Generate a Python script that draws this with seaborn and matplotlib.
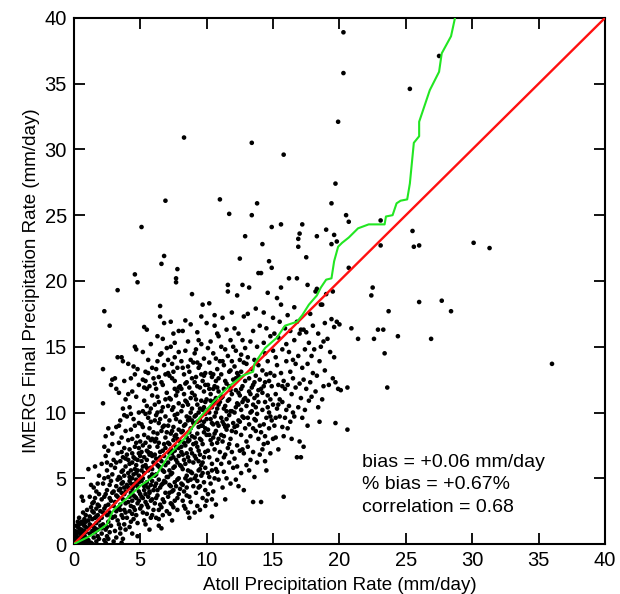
import numpy as np
import pandas as pd
import matplotlib
matplotlib.use("Agg")
import matplotlib.pyplot as plt
import seaborn as sns

# atoll (x) vs IMERG final (y), mm/day
pts_0_3 = [(0.1,0.1),(0.1,0.6),(0.2,1.4),(0.2,0.3),(0.3,0.9),(0.3,1.7),(0.3,0.0),(0.4,0.5),(0.4,1.2),(0.5,0.2),(0.5,1.6),(0.5,0.8),(0.6,0.4),(0.6,1.1),(0.6,3.6),(0.7,3.3),(0.7,0.1),(0.7,1.5),(0.7,0.7),(0.8,0.3),(0.8,1.9),(0.8,1.0),(0.9,0.5),(0.9,1.3),(0.9,2.2),(0.9,0.0),(0.2,0.0),(0.4,0.0),(0.6,0.0),(0.1,1.0),(0.3,1.3),(0.5,1.1),(0.8,0.6),(0.9,0.9),(0.4,2.0),(0.6,1.7),(0.2,0.7),(0.7,2.4),(0.5,0.5),(0.8,1.4),(1.0,0.2),(0.3,0.4),(0.6,0.8),(0.9,1.7),(0.4,1.5),
    (1.1,0.3),(1.1,1.2),(1.1,5.7),(1.2,0.8),(1.2,2.1),(1.2,1.5),(1.3,4.5),(1.3,0.1),(1.3,2.8),(1.4,1.0),(1.4,3.1),(1.4,1.9),(1.5,0.5),(1.5,4.3),(1.5,2.4),(1.5,1.3),(1.6,5.9),(1.6,0.9),(1.6,3.5),(1.6,2.0),(1.7,0.2),(1.7,1.6),(1.7,2.7),(1.7,4.0),(1.8,1.1),(1.8,3.0),(1.8,0.6),(1.8,2.2),(1.9,1.8),(1.9,3.8),(1.9,0.4),(1.9,5.2),(2.0,2.5),(2.0,1.4),(1.2,3.6),(1.4,2.5),(1.6,1.2),(1.8,4.6),(1.1,1.8),(1.3,1.4),(1.5,3.2),(1.7,2.1),(1.9,2.9),(1.0,2.6),(1.4,0.0),
    (2.1,0.8),(2.1,2.0),(2.1,3.4),(2.1,6.1),(2.2,10.7),(2.2,13.3),(2.2,1.5),(2.2,4.6),(2.3,17.7),(2.3,0.3),(2.3,2.7),(2.3,5.0),(2.4,1.1),(2.4,3.8),(2.4,8.2),(2.4,6.7),(2.5,2.2),(2.5,4.1),(2.5,0.6),(2.5,5.6),(2.6,8.8),(2.6,3.0),(2.6,1.7),(2.6,7.1),(2.7,16.6),(2.7,4.5),(2.7,2.4),(2.7,0.9),(2.8,12.1),(2.8,6.0),(2.8,3.3),(2.8,1.4),(2.9,12.5),(2.9,5.3),(2.9,2.0),(2.9,7.6),(3.0,4.0),(3.0,0.2),(3.0,6.4),(3.0,2.9),(2.2,2.4),(2.4,2.9),(2.6,5.1),(2.8,4.8),(2.3,3.6),(2.5,1.3),(2.7,3.5),(2.9,3.9),(2.1,1.2),(2.4,0.1),(2.6,0.4),(2.8,2.1),(2.3,7.4),(2.5,6.2),(2.9,8.4)]

pts_3_5 = [(3.1,12.6),(3.1,3.2),(3.1,1.0),(3.1,5.8),(3.2,8.9),(3.2,2.5),(3.2,4.4),(3.2,0.5),(3.3,19.3),(3.3,14.2),(3.3,6.9),(3.3,3.6),(3.3,1.8),(3.4,11.5),(3.4,5.1),(3.4,2.8),(3.4,7.7),(3.5,9.4),(3.5,4.2),(3.5,1.2),(3.5,6.3),(3.5,3.0),(3.6,14.2),(3.6,5.5),(3.6,2.2),(3.6,8.1),(3.6,0.1),(3.7,13.9),(3.7,4.7),(3.7,3.4),(3.7,10.3),(3.7,6.6),(3.8,12.4),(3.8,2.6),(3.8,5.2),(3.8,7.3),(3.8,1.5),(3.9,11.0),(3.9,4.0),(3.9,3.1),(3.9,8.6),(3.9,5.9),(4.0,2.0),(4.0,6.8),(4.0,9.7),(4.0,4.5),(3.1,2.1),(3.2,3.7),(3.3,4.9),(3.4,1.5),(3.5,2.6),(3.6,3.9),(3.7,2.0),(3.8,3.8),(3.9,2.4),(3.2,6.2),(3.4,4.1),(3.6,4.6),(3.8,4.3),(3.5,5.0),(3.7,5.6),(3.9,6.5),(3.3,2.7),(3.5,0.8),(3.7,0.4),(3.9,1.1),(3.4,9.0),(3.6,7.0),(3.8,9.8),(3.2,11.8),
    (4.1,3.2),(4.1,5.4),(4.1,7.9),(4.1,13.7),(4.2,2.5),(4.2,4.8),(4.2,6.1),(4.2,10.4),(4.3,1.7),(4.3,3.9),(4.3,8.7),(4.3,12.6),(4.4,0.8),(4.4,5.0),(4.4,6.9),(4.4,3.3),(4.5,2.8),(4.5,4.4),(4.5,9.5),(4.5,13.5),(4.6,20.5),(4.6,15.0),(4.6,5.7),(4.6,3.6),(4.6,7.4),(4.7,14.8),(4.7,2.2),(4.7,4.9),(4.7,11.2),(4.8,19.9),(4.8,6.4),(4.8,3.1),(4.8,8.2),(4.8,0.6),(4.9,5.2),(4.9,4.0),(4.9,10.0),(4.9,12.1),(5.0,2.7),(5.0,6.7),(5.0,7.8),(5.0,3.8),(4.1,4.3),(4.2,3.6),(4.3,5.6),(4.4,4.2),(4.5,5.3),(4.6,4.6),(4.7,3.5),(4.8,4.4),(4.9,3.3),(4.2,7.2),(4.4,8.0),(4.6,9.0),(4.8,5.6),(4.3,2.9),(4.5,1.9),(4.7,6.0),(4.9,6.9),(4.1,6.4),(4.3,4.6),(4.5,3.7),(4.7,5.4),(4.9,4.7),(4.2,1.3),(4.4,2.3),(4.6,2.6),(4.8,1.6),(4.5,6.6),(4.7,7.7),(4.4,11.6),(4.6,12.9),(4.9,9.2),(4.3,9.9),(4.1,11.4),(4.8,13.3),(4.2,5.1),(4.4,6.2),(4.6,6.5),(4.9,7.3)]

pts_5_7 = [(5.1,24.1),(5.1,3.6),(5.1,6.3),(5.1,9.1),(5.2,12.5),(5.2,2.4),(5.2,5.0),(5.2,7.5),(5.3,16.5),(5.3,4.1),(5.3,8.3),(5.3,10.9),(5.4,1.5),(5.4,6.0),(5.4,3.2),(5.4,13.1),(5.5,16.3),(5.5,4.7),(5.5,7.1),(5.5,11.8),(5.6,2.8),(5.6,5.6),(5.6,9.6),(5.6,14.0),(5.7,3.9),(5.7,6.8),(5.7,8.8),(5.7,12.0),(5.8,4.5),(5.8,2.0),(5.8,7.9),(5.8,10.3),(5.9,5.3),(5.9,3.4),(5.9,11.3),(5.9,13.4),(6.0,6.2),(6.0,4.1),(6.0,8.5),(6.0,2.6),(5.1,4.8),(5.2,5.9),(5.3,5.4),(5.4,4.5),(5.5,5.8),(5.6,4.3),(5.7,5.1),(5.8,5.8),(5.9,4.8),(5.2,3.5),(5.4,3.8),(5.6,3.6),(5.8,3.3),(5.1,7.0),(5.3,6.6),(5.5,6.4),(5.7,7.4),(5.9,6.7),(5.2,8.9),(5.4,9.9),(5.6,8.1),(5.8,9.3),(5.3,11.9),(5.5,10.5),(5.7,10.0),(5.9,8.0),(5.1,2.9),(5.3,1.8),(5.5,2.3),(5.7,1.1),(5.9,2.2),(5.2,14.6),(5.4,12.4),(5.6,13.0),(5.8,15.2),(5.5,3.0),(5.7,4.0),(5.3,4.4),(5.1,5.6),(5.9,5.7),(5.6,7.0),(5.4,7.7),(5.8,6.9),(5.2,10.1),(6.0,12.6),
    (6.1,3.1),(6.1,5.2),(6.1,7.8),(6.1,10.6),(6.2,2.0),(6.2,4.6),(6.2,6.5),(6.2,13.3),(6.3,15.8),(6.3,3.7),(6.3,8.4),(6.3,11.2),(6.4,1.4),(6.4,5.9),(6.4,9.2),(6.4,12.7),(6.5,18.1),(6.5,17.3),(6.5,4.3),(6.5,7.0),(6.6,21.3),(6.6,14.5),(6.6,2.8),(6.6,10.1),(6.7,5.6),(6.7,3.4),(6.7,8.9),(6.7,12.1),(6.8,21.9),(6.8,6.7),(6.8,4.8),(6.8,16.8),(6.9,26.1),(6.9,3.9),(6.9,9.7),(6.9,7.3),(7.0,5.1),(7.0,11.5),(7.0,2.5),(7.0,14.9),(6.1,4.4),(6.2,5.3),(6.3,6.0),(6.4,4.9),(6.5,5.8),(6.6,6.3),(6.7,4.6),(6.8,5.5),(6.9,6.0),(6.1,6.8),(6.3,7.4),(6.5,6.6),(6.7,7.1),(6.9,8.1),(6.2,8.0),(6.4,7.7),(6.6,8.6),(6.8,9.0),(6.1,9.4),(6.3,10.0),(6.5,9.5),(6.7,10.4),(6.9,11.0),(6.2,11.8),(6.4,10.8),(6.6,12.3),(6.8,13.6),(6.3,4.1),(6.5,3.0),(6.7,2.2),(6.9,4.7),(6.2,3.5),(6.4,2.6),(6.6,4.5),(6.8,3.2),(6.3,13.9),(6.5,14.4),(6.7,15.6),(6.9,12.9),(6.1,12.2),(6.4,1.9),(6.6,1.2),(6.8,7.6),(6.2,9.8),(7.0,8.5)]

pts_7_9 = [(7.1,3.6),(7.1,6.2),(7.1,9.0),(7.1,13.0),(7.2,4.5),(7.2,7.6),(7.2,11.1),(7.2,2.3),(7.3,5.3),(7.3,8.4),(7.3,15.0),(7.3,3.1),(7.4,6.9),(7.4,10.2),(7.4,4.0),(7.4,12.6),(7.5,16.0),(7.5,5.8),(7.5,8.9),(7.5,2.8),(7.6,7.1),(7.6,11.8),(7.6,4.7),(7.6,14.2),(7.7,20.2),(7.7,19.9),(7.7,6.4),(7.7,9.5),(7.8,20.9),(7.8,3.5),(7.8,8.0),(7.8,13.4),(7.9,5.0),(7.9,10.7),(7.9,7.3),(7.9,16.2),(8.0,6.0),(8.0,9.3),(8.0,4.2),(8.0,12.0),(7.1,5.1),(7.2,5.6),(7.3,6.5),(7.4,5.4),(7.5,6.6),(7.6,5.9),(7.7,7.4),(7.8,6.2),(7.9,6.7),(7.1,7.7),(7.3,7.2),(7.5,7.9),(7.7,8.3),(7.9,8.7),(7.2,9.4),(7.4,8.6),(7.6,9.8),(7.8,9.9),(7.1,10.5),(7.3,11.0),(7.5,10.4),(7.7,11.3),(7.9,11.9),(7.2,12.8),(7.4,13.7),(7.6,12.4),(7.8,11.6),(7.2,3.9),(7.4,3.0),(7.6,3.3),(7.8,4.9),(7.3,4.4),(7.5,4.1),(7.7,4.4),(7.9,3.8),(7.1,14.0),(7.5,13.1),(7.9,14.6),(7.3,16.9),(7.6,15.3),(7.4,1.8),(7.8,2.6),(7.2,6.9),(7.6,8.2),(8.0,7.8),
    (8.1,4.6),(8.1,7.0),(8.1,10.1),(8.1,13.9),(8.2,3.3),(8.2,5.7),(8.2,8.6),(8.2,16.2),(8.3,30.9),(8.3,6.4),(8.3,11.4),(8.3,4.0),(8.4,9.1),(8.4,2.7),(8.4,14.7),(8.4,7.5),(8.5,5.2),(8.5,12.3),(8.5,8.1),(8.5,3.7),(8.6,10.6),(8.6,6.6),(8.6,13.5),(8.6,4.8),(8.7,2.0),(8.7,7.9),(8.7,9.6),(8.7,11.9),(8.8,5.5),(8.8,14.0),(8.8,3.2),(8.8,8.8),(8.9,19.0),(8.9,6.9),(8.9,10.3),(8.9,12.6),(9.0,4.4),(9.0,7.6),(9.0,13.8),(9.0,9.2),(8.1,5.9),(8.2,6.8),(8.3,7.7),(8.4,6.1),(8.5,6.9),(8.6,7.8),(8.7,6.3),(8.8,7.2),(8.9,8.2),(8.1,8.5),(8.3,9.0),(8.5,9.7),(8.7,8.5),(8.9,9.4),(8.2,10.5),(8.4,10.9),(8.6,9.4),(8.8,11.1),(8.1,11.8),(8.3,12.9),(8.5,10.8),(8.7,13.1),(8.9,11.5),(8.2,4.5),(8.4,5.0),(8.6,5.6),(8.8,4.9),(8.3,2.9),(8.5,4.3),(8.7,3.6),(8.9,5.4),(8.2,13.4),(8.4,12.2),(8.6,15.4),(8.8,16.7),(8.4,17.0),(8.6,2.4),(8.1,7.4),(8.8,10.0),(9.0,6.2)]

pts_9_11 = [(9.1,5.0),(9.1,8.1),(9.1,11.3),(9.1,14.5),(9.2,3.9),(9.2,6.5),(9.2,9.8),(9.2,12.7),(9.3,2.9),(9.3,7.4),(9.3,10.6),(9.3,16.1),(9.4,5.6),(9.4,8.9),(9.4,13.4),(9.4,4.3),(9.5,6.8),(9.5,11.9),(9.5,2.6),(9.5,9.4),(9.6,7.9),(9.6,12.9),(9.6,5.2),(9.6,15.2),(9.7,18.2),(9.7,10.2),(9.7,3.5),(9.7,6.2),(9.8,8.5),(9.8,11.6),(9.8,4.7),(9.8,14.1),(9.9,7.0),(9.9,9.9),(9.9,13.0),(9.9,5.8),(10.0,8.3),(10.0,11.0),(10.0,3.3),(10.0,16.8),(9.1,6.7),(9.2,7.7),(9.3,8.4),(9.4,7.1),(9.5,8.0),(9.6,9.0),(9.7,7.6),(9.8,9.3),(9.9,8.8),(9.1,9.7),(9.3,9.3),(9.5,10.3),(9.7,9.0),(9.9,10.8),(9.2,11.0),(9.4,10.0),(9.6,10.9),(9.8,10.4),(9.1,12.3),(9.3,12.0),(9.5,13.6),(9.7,12.4),(9.9,12.1),(9.2,5.2),(9.4,6.3),(9.6,6.0),(9.8,6.6),(9.3,4.8),(9.5,4.4),(9.7,5.4),(9.9,4.1),(9.2,14.8),(9.4,15.5),(9.6,17.3),(9.8,12.8),(9.1,2.4),(9.5,5.7),(9.9,2.9),(9.3,13.8),(10.0,9.5),
    (10.1,5.4),(10.1,8.7),(10.1,12.1),(10.1,3.8),(10.2,18.3),(10.2,6.6),(10.2,10.0),(10.2,13.8),(10.3,4.6),(10.3,7.9),(10.3,11.4),(10.3,15.4),(10.4,2.1),(10.4,9.2),(10.4,6.1),(10.4,12.7),(10.5,8.1),(10.5,10.7),(10.5,4.0),(10.5,14.5),(10.6,7.2),(10.6,9.7),(10.6,12.0),(10.6,16.6),(10.7,5.7),(10.7,8.6),(10.7,11.1),(10.7,3.0),(10.8,10.3),(10.8,13.3),(10.8,6.4),(10.8,7.7),(10.9,9.0),(10.9,12.6),(10.9,4.9),(10.9,15.8),(11.0,26.2),(11.0,7.0),(11.0,10.8),(11.0,13.9),(10.1,7.1),(10.2,8.3),(10.3,9.5),(10.4,7.6),(10.5,9.1),(10.6,8.4),(10.7,10.0),(10.8,9.2),(10.9,10.6),(10.1,10.2),(10.3,10.9),(10.5,11.8),(10.7,12.4),(10.9,11.6),(10.2,11.8),(10.4,10.4),(10.6,10.9),(10.8,11.9),(10.2,5.1),(10.4,5.6),(10.6,5.0),(10.8,5.5),(10.3,13.0),(10.5,12.9),(10.7,14.1),(10.1,14.9),(10.9,8.0),(10.4,3.4),(10.6,17.4),(10.8,16.0)]

pts_11_14 = [(11.1,6.1),(11.1,9.6),(11.1,12.9),(11.1,15.0),(11.2,4.3),(11.2,7.8),(11.2,11.2),(11.2,17.2),(11.3,5.5),(11.3,9.1),(11.3,13.6),(11.3,8.2),(11.4,6.8),(11.4,10.5),(11.4,14.8),(11.4,3.4),(11.5,8.7),(11.5,12.2),(11.5,16.3),(11.5,5.0),(11.6,19.7),(11.6,19.2),(11.6,7.3),(11.6,10.9),(11.7,25.1),(11.7,13.1),(11.7,6.2),(11.7,9.8),(11.8,11.7),(11.8,8.0),(11.8,15.5),(11.8,4.6),(11.9,7.0),(11.9,10.1),(11.9,13.9),(11.9,17.6),(12.0,9.2),(12.0,12.5),(12.0,5.8),(12.0,15.0),(11.1,8.3),(11.2,9.3),(11.3,10.3),(11.4,8.9),(11.5,10.1),(11.6,9.0),(11.7,11.0),(11.8,10.1),(11.9,11.4),(11.1,11.1),(11.3,11.8),(11.5,9.5),(11.7,12.0),(11.9,8.6),(11.2,13.9),(11.4,12.4),(11.6,14.3),(11.8,13.2),(11.3,6.6),(11.7,7.6),
    (12.1,6.5),(12.1,10.0),(12.1,13.5),(12.1,16.4),(12.2,4.9),(12.2,8.5),(12.2,11.7),(12.2,14.7),(12.3,7.5),(12.3,10.7),(12.3,18.9),(12.3,5.9),(12.4,9.4),(12.4,12.8),(12.4,4.4),(12.4,16.0),(12.5,21.7),(12.5,7.1),(12.5,11.3),(12.5,14.0),(12.6,8.3),(12.6,10.2),(12.6,13.1),(12.6,5.4),(12.7,19.7),(12.7,9.7),(12.7,12.0),(12.7,15.5),(12.8,6.9),(12.8,11.0),(12.8,17.3),(12.8,4.1),(12.9,23.4),(12.9,8.8),(12.9,12.4),(12.9,14.9),(13.0,10.5),(13.0,7.8),(13.0,13.7),(13.0,6.0),(12.1,8.9),(12.2,10.4),(12.3,9.0),(12.4,10.6),(12.5,9.3),(12.6,11.8),(12.7,10.8),(12.8,9.6),(12.9,11.1),(12.2,12.6),(12.4,11.5),(12.6,14.4),(12.8,13.8),(12.3,13.0),(12.7,7.2),
    (13.1,7.4),(13.1,10.9),(13.1,14.2),(13.1,17.5),(13.2,5.6),(13.2,9.1),(13.2,12.6),(13.2,19.5),(13.3,8.2),(13.3,11.4),(13.3,15.4),(13.3,6.4),(13.4,30.5),(13.4,25.0),(13.4,10.1),(13.4,13.3),(13.5,7.0),(13.5,12.1),(13.5,16.2),(13.5,3.2),(13.6,9.5),(13.6,11.1),(13.6,14.0),(13.6,5.1),(13.7,8.6),(13.7,12.8),(13.7,17.9),(13.7,10.4),(13.8,25.9),(13.8,6.2),(13.8,9.9),(13.8,15.0),(13.9,11.7),(13.9,8.0),(13.9,13.6),(13.9,20.6),(14.0,9.0),(14.0,12.5),(14.0,16.6),(14.0,6.8),(13.1,9.6),(13.3,10.0),(13.5,10.6),(13.7,9.4),(13.9,10.8),(13.2,11.6),(13.4,11.9),(13.6,12.3),(13.8,11.3),(13.5,8.8)]

pts_14_20 = [(14.1,3.2),(14.1,8.5),(14.1,11.8),(14.1,20.6),(14.2,22.8),(14.2,7.2),(14.2,13.2),(14.2,10.2),(14.3,9.1),(14.3,15.3),(14.3,12.0),(14.3,17.6),(14.4,6.3),(14.4,10.8),(14.4,14.5),(14.4,8.2),(14.5,12.9),(14.5,9.6),(14.5,16.4),(14.5,5.6),(14.6,11.3),(14.6,7.7),(14.6,13.9),(14.6,19.1),(14.7,21.5),(14.7,10.0),(14.7,12.4),(14.7,8.8),(14.8,15.8),(14.8,11.0),(14.8,6.9),(14.8,13.0),(14.9,24.1),(14.9,21.0),(14.9,9.4),(14.9,12.0),(15.0,10.6),(15.0,14.7),(15.0,8.0),(15.0,17.2),(14.2,11.5),(14.4,12.3),(14.6,10.4),(14.8,9.7),(14.3,7.6),
    (15.1,9.0),(15.1,12.8),(15.1,16.0),(15.2,8.1),(15.2,11.4),(15.2,14.2),(15.3,10.3),(15.3,13.6),(15.3,18.7),(15.4,7.2),(15.4,12.1),(15.4,15.7),(15.5,9.7),(15.5,11.0),(15.5,16.9),(15.6,24.3),(15.6,19.5),(15.6,18.2),(15.6,13.0),(15.7,8.9),(15.7,10.8),(15.7,14.8),(15.8,29.6),(15.8,3.6),(15.8,12.4),(15.8,8.2),(15.9,11.8),(15.9,16.4),(15.9,9.6),(16.0,13.9),(16.0,10.2),(16.0,15.2),(15.2,9.6),(15.4,10.6),(15.7,12.0),
    (16.1,8.8),(16.1,12.1),(16.1,17.4),(16.2,20.2),(16.2,10.5),(16.2,14.6),(16.3,9.3),(16.3,13.1),(16.3,16.2),(16.4,11.4),(16.4,8.0),(16.5,14.0),(16.5,12.6),(16.5,10.0),(16.6,15.5),(16.6,9.7),(16.7,11.9),(16.7,13.7),(16.8,20.2),(16.8,16.9),(16.8,6.6),(16.9,23.2),(16.9,22.6),(16.9,10.4),(16.9,14.3),(17.0,23.6),(17.0,7.8),(17.0,12.2),(17.0,16.0),(16.6,18.0),
    (17.1,6.6),(17.1,11.1),(17.1,16.3),(17.2,24.3),(17.2,13.4),(17.2,9.6),(17.3,7.4),(17.3,16.3),(17.3,12.5),(17.4,10.2),(17.4,14.8),(17.5,21.8),(17.5,11.8),(17.5,16.1),(17.6,19.7),(17.6,13.7),(17.6,9.0),(17.7,15.3),(17.7,10.9),(17.8,12.3),(17.8,17.5),(17.9,14.3),(17.9,11.2),(18.0,16.6),(18.0,13.0),
    (18.2,19.2),(18.3,19.4),(18.3,23.4),(18.1,14.8),(18.2,11.6),(18.3,12.8),(18.4,16.0),(18.5,9.3),(18.5,13.9),(18.6,18.2),(18.7,18.2),(18.6,15.0),(18.7,11.0),(18.8,12.0),(18.8,15.4),(18.9,16.8),(18.9,13.2),(19.0,23.9),(19.0,19.0),(18.4,10.4),
    (19.1,15.6),(19.2,12.1),(19.3,14.6),(19.4,25.9),(19.4,22.8),(19.4,17.1),(19.5,19.2),(19.5,12.6),(19.6,23.5),(19.6,16.5),(19.6,14.2),(19.7,27.4),(19.7,9.2),(19.7,12.3),(19.8,23.0),(19.8,16.9),(19.9,32.1),(19.9,11.8)]

pts_20_up = [(20.0,16.7),(20.1,11.7),(20.3,38.9),(20.3,35.8),(20.5,25.0),(20.6,11.9),(20.6,8.7),(20.7,24.5),(20.7,21.0),(20.9,16.4),(21.4,15.6),(22.4,18.9),(22.5,19.5),(22.6,15.6),(22.9,16.3),(23.1,24.6),(23.1,22.7),(23.3,16.3),(23.4,14.5),(23.6,11.9),(23.7,17.7),(24.4,15.8),(25.3,34.6),(25.5,23.8),(25.6,22.6),(26.0,22.7),(26.0,18.4),(26.9,15.6),(27.5,37.1),(27.7,18.5),(28.4,17.7),(30.1,22.9),(31.3,22.5),(36.0,13.7)]

# quantile-quantile curve (green)
qq_atoll = [0.0, 1.2, 2.1, 2.5, 2.8, 3.0, 3.9, 5.1, 5.7, 6.3, 7.2, 8.4, 9.3, 10.5, 11.7, 12.7, 13.5, 13.6, 14.4, 15.3, 15.9, 16.8, 17.2, 17.7, 18.3, 18.6, 19.0, 19.4, 19.6, 19.9, 20.2, 20.7, 21.4, 22.2, 23.4, 23.5, 24.0, 24.3, 24.6, 25.1, 25.3, 25.6, 26.0, 26.0, 26.8, 27.5, 27.7, 28.4, 28.7]
qq_imerg = [0.0, 0.6, 1.2, 1.5, 2.2, 2.6, 3.4, 4.5, 4.9, 5.4, 6.8, 8.1, 9.4, 10.8, 12.0, 12.8, 13.1, 13.7, 14.9, 15.7, 16.6, 16.9, 17.4, 18.2, 18.9, 19.5, 20.1, 20.2, 21.5, 22.6, 22.9, 23.3, 24.0, 24.3, 24.3, 24.9, 25.0, 25.9, 26.1, 26.2, 27.4, 30.5, 31.0, 32.1, 34.5, 35.9, 37.3, 38.6, 40.0]

stats_text = ["bias = +0.06 mm/day", "% bias = +0.67%", "correlation = 0.68"]

all_pts = pts_0_3 + pts_3_5 + pts_5_7 + pts_7_9 + pts_9_11 + pts_11_14 + pts_14_20 + pts_20_up
df = pd.DataFrame(all_pts, columns=["atoll", "imerg"])

sns.set_style("ticks")
plt.rcParams["font.family"] = ["Liberation Sans", "DejaVu Sans"]
plt.rcParams["text.color"] = "black"
plt.rcParams["axes.labelcolor"] = "black"
plt.rcParams["xtick.color"] = "black"
plt.rcParams["ytick.color"] = "black"

fig = plt.figure(figsize=(6.2, 5.94), dpi=100)
ax = fig.add_axes([0.119, 0.084, 0.857, 0.886])

sns.scatterplot(data=df, x="atoll", y="imerg", ax=ax, color="black", s=11,
                linewidth=0, edgecolor="none", zorder=2)
ax.axline((0, 0), slope=1, color="#ff1010", lw=1.7, zorder=3)
sns.lineplot(x=qq_atoll, y=qq_imerg, ax=ax, color="#22e622", lw=1.5,
             sort=False, estimator=None, zorder=4)

ax.set_xlim(0, 40)
ax.set_ylim(0, 40)
ax.set_xticks(range(0, 41, 5))
ax.set_yticks(range(0, 41, 5))
ax.tick_params(direction="in", top=True, right=True, length=8, width=1.3,
               labelsize=14.5, pad=5)
for s in ax.spines.values():
    s.set_linewidth(1.5)
    s.set_color("black")
ax.set_xlabel("Atoll Precipitation Rate (mm/day)", fontsize=13.5, labelpad=5)
ax.set_ylabel("IMERG Final Precipitation Rate (mm/day)", fontsize=13.5, labelpad=3)

for i, t in enumerate(stats_text):
    ax.text(21.7, 6.2 - i * 1.7, t, fontsize=14, va="center", ha="left")

fig.savefig("out.png", dpi=100)
